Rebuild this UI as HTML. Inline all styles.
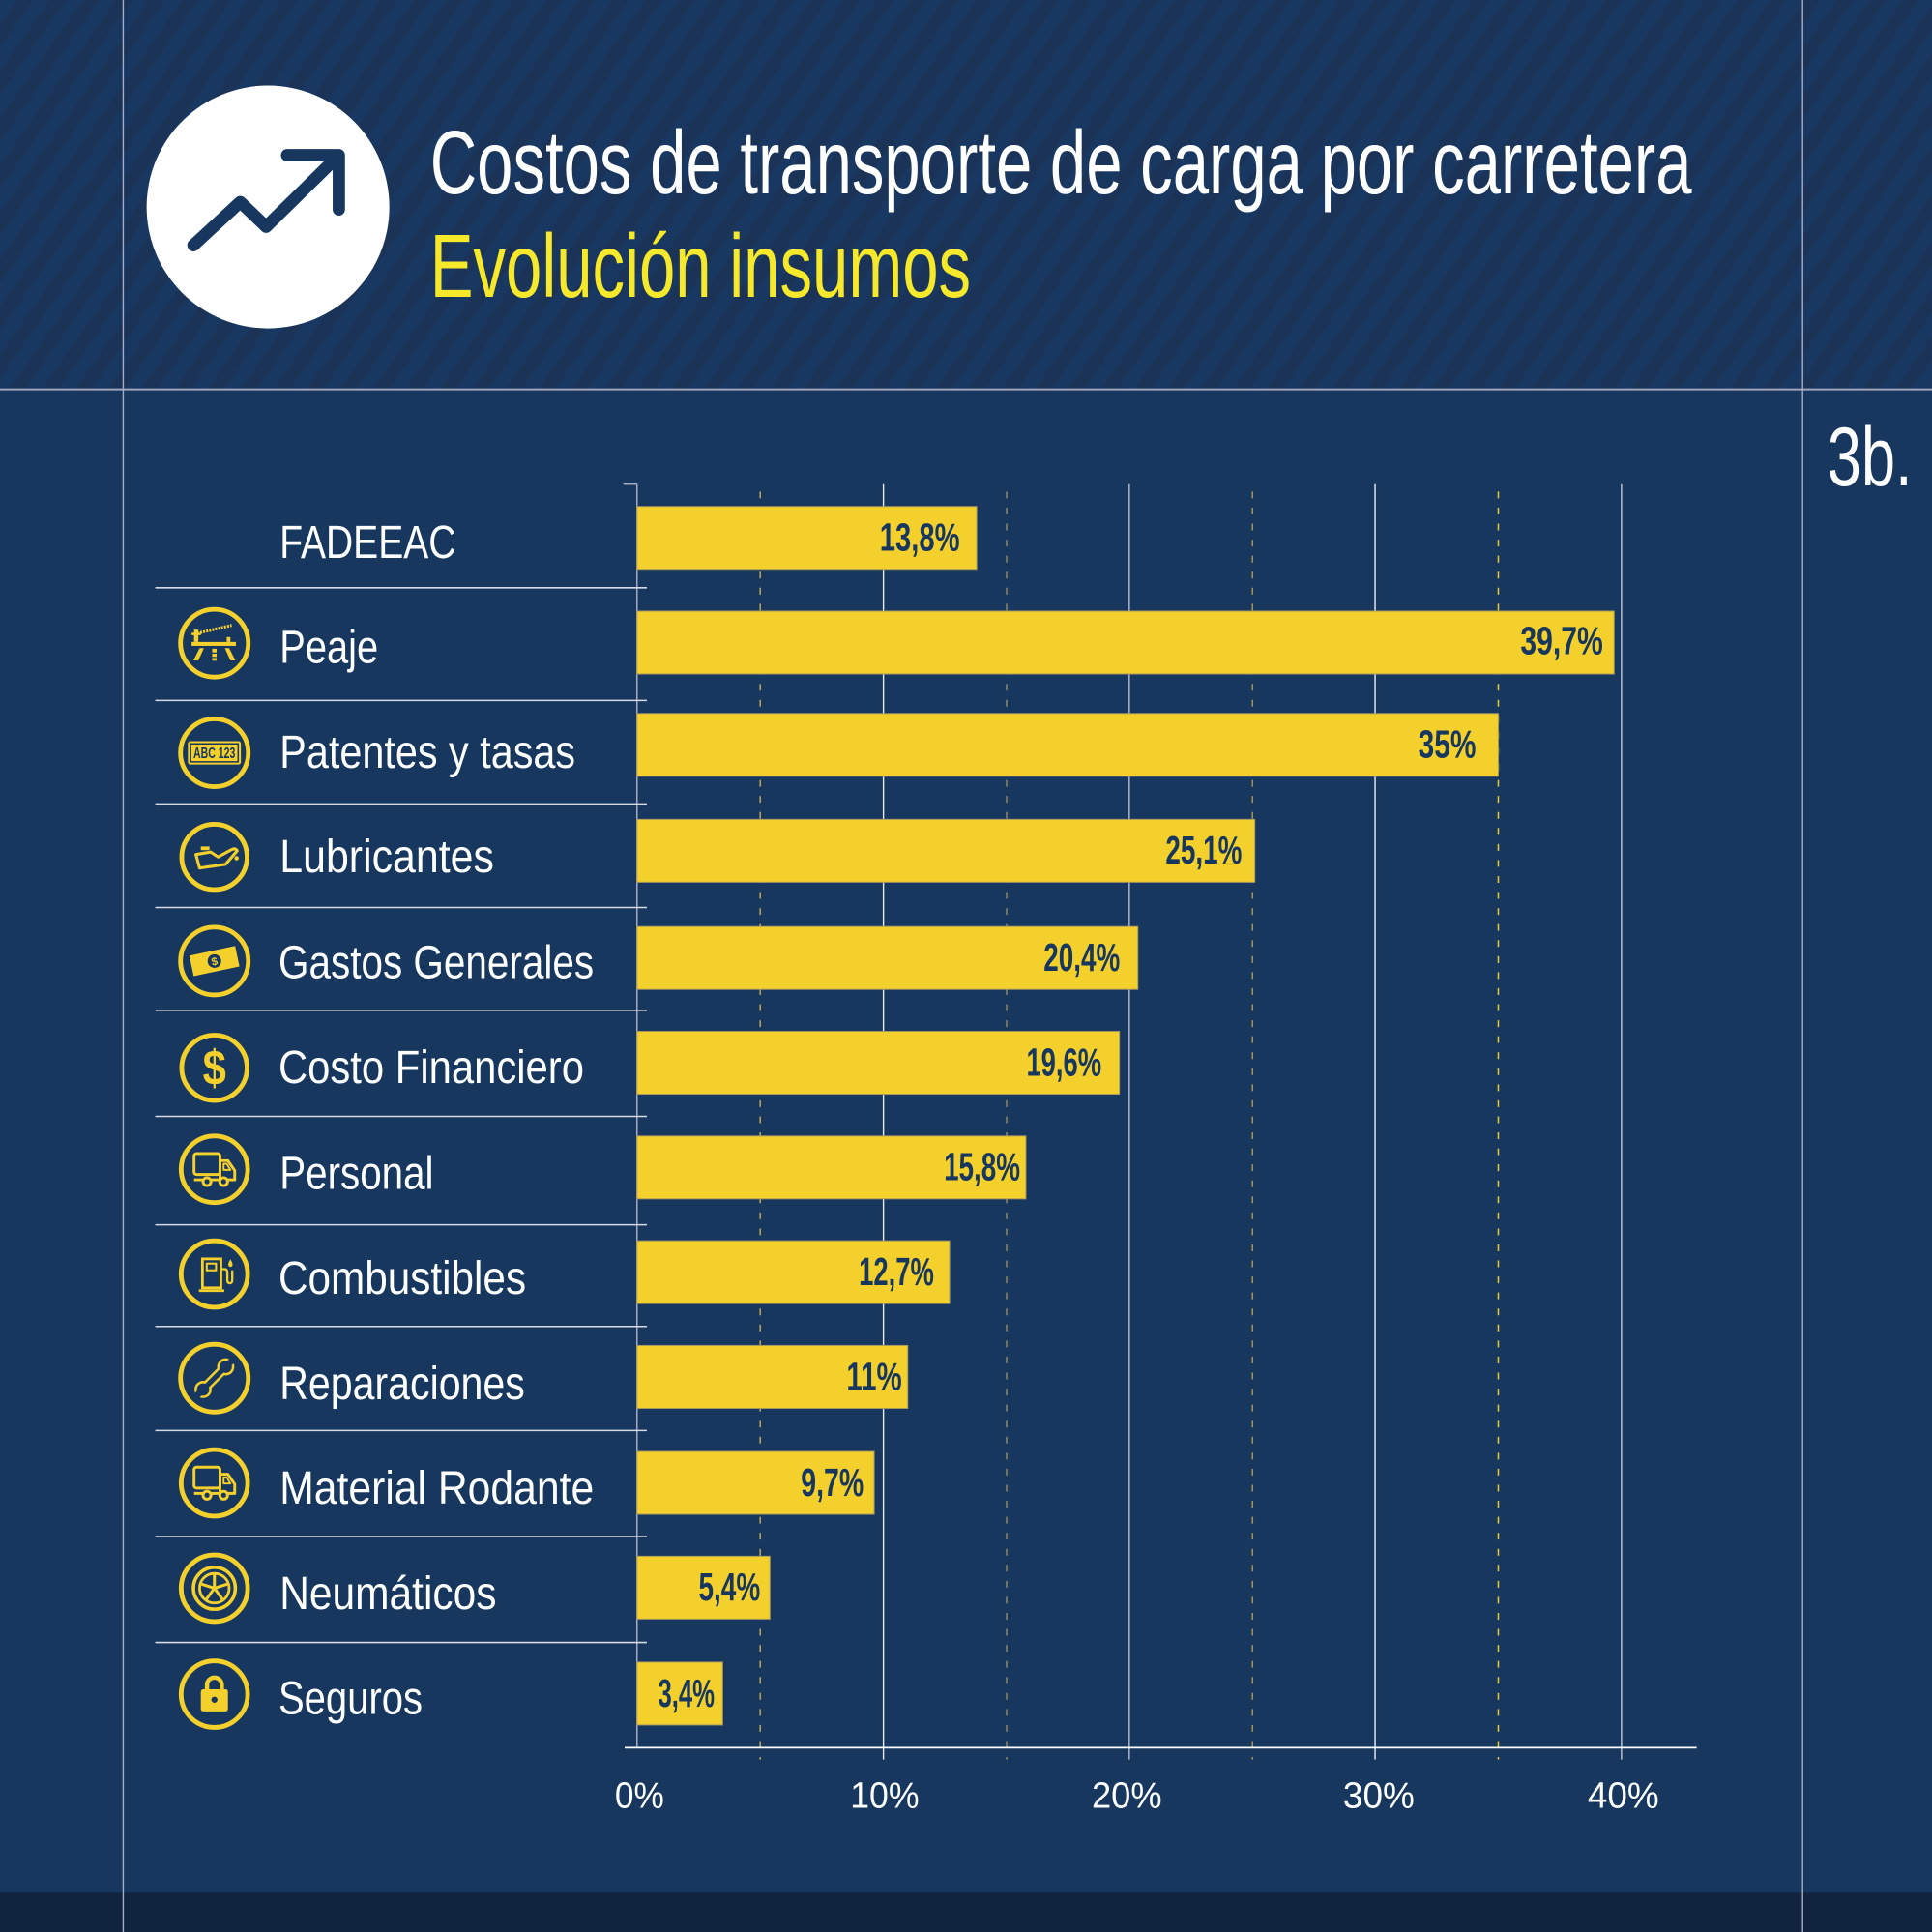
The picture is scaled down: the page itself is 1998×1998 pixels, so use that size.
<!DOCTYPE html>
<html>
<head>
<meta charset="utf-8">
<style>
  html, body { margin: 0; padding: 0; background: #17375f; }
  body { width: 1998px; height: 1998px; overflow: hidden; }
  svg { display: block; }
  text { font-family: "Liberation Sans", "DejaVu Sans", sans-serif; }
</style>
</head>
<body>
<svg width="1998" height="1998" viewBox="0 0 1568 1568" xmlns="http://www.w3.org/2000/svg">
  <defs>
    <pattern id="st" patternUnits="userSpaceOnUse" width="40" height="22" patternTransform="rotate(-55)">
      <rect width="40" height="22" fill="#1c3358"/>
      <rect width="40" height="11" fill="#183861"/>
    </pattern>
  </defs>

  <!-- backgrounds -->
  <rect x="0" y="0" width="1568" height="1568" fill="#17375f"/>
  <rect x="0" y="0" width="1568" height="316" fill="url(#st)"/>
  <rect x="0" y="1536" width="1568" height="32" fill="#10243f"/>

  <!-- frame lines -->
  <line x1="0" y1="316" x2="1568" y2="316" stroke="#a3a5bf" stroke-width="1.6"/>
  <line x1="100" y1="0" x2="100" y2="1568" stroke="#a9acc6" stroke-width="1.1"/>
  <line x1="1463" y1="0" x2="1463" y2="1568" stroke="#a9acc6" stroke-width="1.1"/>

  <!-- header icon -->
  <circle cx="217.5" cy="168" r="98.5" fill="#ffffff"/>
  <polyline points="157,199 195,164 216,184 272,129" fill="none" stroke="#17375f" stroke-width="10" stroke-linecap="round" stroke-linejoin="round"/>
  <polyline points="233,126 275,126 275,170" fill="none" stroke="#17375f" stroke-width="10" stroke-linecap="round" stroke-linejoin="round"/>

  <!-- titles -->
  <text x="349" y="157" font-size="73" fill="#ffffff" textLength="1024" lengthAdjust="spacingAndGlyphs">Costos de transporte de carga por carretera</text>
  <text x="349" y="241" font-size="73" fill="#f6e82b" textLength="439" lengthAdjust="spacingAndGlyphs">Evolución insumos</text>
  <text x="1483" y="394" font-size="68" fill="#ffffff" textLength="69" lengthAdjust="spacingAndGlyphs">3b.</text>

  <!-- grid -->
  <line x1="517" y1="393" x2="517" y2="1418" stroke="#b0b3c8" stroke-width="1.1"/>
  <line x1="506" y1="393" x2="517" y2="393" stroke="#b0b3c8" stroke-width="1.1"/>
  <g stroke-width="1.1">
    <line x1="717" y1="393" x2="717" y2="1428" stroke="#e8eaf0"/>
    <line x1="916.5" y1="393" x2="916.5" y2="1428" stroke="#b8bbcd"/>
    <line x1="1116" y1="393" x2="1116" y2="1428" stroke="#eef0f4"/>
    <line x1="1316" y1="393" x2="1316" y2="1428" stroke="#c4c7d6"/>
  </g>
  <g stroke-width="1.2" stroke-dasharray="5.5 7.5">
    <line x1="617" y1="399" x2="617" y2="1428" stroke="#b9a45a"/>
    <line x1="817" y1="399" x2="817" y2="1428" stroke="#8f8466"/>
    <line x1="1016.5" y1="399" x2="1016.5" y2="1428" stroke="#a3925a"/>
    <line x1="1216" y1="399" x2="1216" y2="1428" stroke="#e6c735"/>
  </g>
  <line x1="507" y1="1418.4" x2="1377" y2="1418.4" stroke="#ffffff" stroke-width="1.3"/>

  <!-- row separators -->
  <g stroke="#d8dbe6" stroke-width="1.2">
    <line x1="126" y1="477" x2="525" y2="477"/>
    <line x1="126" y1="568.5" x2="525" y2="568.5"/>
    <line x1="126" y1="652.5" x2="525" y2="652.5"/>
    <line x1="126" y1="736.5" x2="525" y2="736.5"/>
    <line x1="126" y1="820" x2="525" y2="820"/>
    <line x1="126" y1="906" x2="525" y2="906"/>
    <line x1="126" y1="994" x2="525" y2="994"/>
    <line x1="126" y1="1076.5" x2="525" y2="1076.5"/>
    <line x1="126" y1="1161" x2="525" y2="1161"/>
    <line x1="126" y1="1247" x2="525" y2="1247"/>
    <line x1="126" y1="1333" x2="525" y2="1333"/>
  </g>

  <!-- bars -->
  <g fill="#f4d02c" stroke="#a89a60" stroke-width="0.8">
    <rect x="517" y="411" width="275.7" height="51"/>
    <rect x="517" y="496" width="793" height="51"/>
    <rect x="517" y="579" width="699" height="51"/>
    <rect x="517" y="665" width="501.4" height="51"/>
    <rect x="517" y="752" width="406.5" height="51"/>
    <rect x="517" y="837" width="391.5" height="51"/>
    <rect x="517" y="922" width="315.6" height="51"/>
    <rect x="517" y="1007" width="253.7" height="51"/>
    <rect x="517" y="1092" width="219.7" height="51"/>
    <rect x="517" y="1178" width="192.5" height="51"/>
    <rect x="517" y="1263" width="107.9" height="51"/>
    <rect x="517" y="1349" width="69.5" height="51"/>
  </g>

  <!-- value labels -->
  <g font-size="32" font-weight="bold" fill="#17375f">
    <text x="714" y="447" textLength="65" lengthAdjust="spacingAndGlyphs">13,8%</text>
    <text x="1234" y="531" textLength="67" lengthAdjust="spacingAndGlyphs">39,7%</text>
    <text x="1151" y="615" textLength="47" lengthAdjust="spacingAndGlyphs">35%</text>
    <text x="946" y="701" textLength="62" lengthAdjust="spacingAndGlyphs">25,1%</text>
    <text x="847" y="788" textLength="62" lengthAdjust="spacingAndGlyphs">20,4%</text>
    <text x="833" y="873" textLength="61" lengthAdjust="spacingAndGlyphs">19,6%</text>
    <text x="766" y="958" textLength="62" lengthAdjust="spacingAndGlyphs">15,8%</text>
    <text x="697" y="1043" textLength="61" lengthAdjust="spacingAndGlyphs">12,7%</text>
    <text x="687" y="1128" textLength="45" lengthAdjust="spacingAndGlyphs">11%</text>
    <text x="650" y="1214" textLength="51" lengthAdjust="spacingAndGlyphs">9,7%</text>
    <text x="567" y="1299" textLength="50" lengthAdjust="spacingAndGlyphs">5,4%</text>
    <text x="534" y="1385" textLength="46" lengthAdjust="spacingAndGlyphs">3,4%</text>
  </g>

  <!-- row labels -->
  <g font-size="37.7" fill="#ffffff">
    <text x="227" y="453" textLength="143" lengthAdjust="spacingAndGlyphs">FADEEAC</text>
    <text x="227" y="538" textLength="80" lengthAdjust="spacingAndGlyphs">Peaje</text>
    <text x="227" y="623" textLength="240" lengthAdjust="spacingAndGlyphs">Patentes y tasas</text>
    <text x="227" y="708" textLength="174" lengthAdjust="spacingAndGlyphs">Lubricantes</text>
    <text x="226" y="794" textLength="256" lengthAdjust="spacingAndGlyphs">Gastos Generales</text>
    <text x="226" y="879" textLength="248" lengthAdjust="spacingAndGlyphs">Costo Financiero</text>
    <text x="227" y="965" textLength="125" lengthAdjust="spacingAndGlyphs">Personal</text>
    <text x="226" y="1050" textLength="201" lengthAdjust="spacingAndGlyphs">Combustibles</text>
    <text x="227" y="1135.5" textLength="199" lengthAdjust="spacingAndGlyphs">Reparaciones</text>
    <text x="227" y="1220.5" textLength="255" lengthAdjust="spacingAndGlyphs">Material Rodante</text>
    <text x="227" y="1306" textLength="176" lengthAdjust="spacingAndGlyphs">Neumáticos</text>
    <text x="226" y="1391" textLength="117" lengthAdjust="spacingAndGlyphs">Seguros</text>
  </g>

  <!-- icon rings -->
  <g fill="none" stroke="#f4d02c" stroke-width="3.8">
    <circle cx="174" cy="522" r="27.5"/>
    <circle cx="174" cy="611" r="27.5"/>
    <circle cx="174" cy="695.5" r="26.5"/>
    <circle cx="174" cy="780" r="27.5"/>
    <circle cx="174" cy="866.6" r="26.5"/>
    <circle cx="174" cy="949" r="27"/>
    <circle cx="174" cy="1034" r="27"/>
    <circle cx="174" cy="1118.5" r="27.5"/>
    <circle cx="174" cy="1203.5" r="27"/>
    <circle cx="174" cy="1289" r="27"/>
    <circle cx="174" cy="1375" r="27"/>
  </g>

  <!-- Peaje icon -->
  <g transform="translate(174,522)" fill="#f4d02c">
    <line x1="-14" y1="-8" x2="14" y2="-14.5" stroke="#f4d02c" stroke-width="2.4" stroke-dasharray="1.6 0.9"/>
    <rect x="-16.5" y="-11" width="3.5" height="10"/>
    <rect x="-18.5" y="-8.5" width="7.5" height="2"/>
    <rect x="10" y="-5" width="3" height="4"/>
    <rect x="-18.5" y="-1" width="36" height="3.2"/>
    <polygon points="-12,4 -8.5,4 -13,14 -17,14"/>
    <polygon points="8.5,4 12,4 17,14 13,14"/>
    <rect x="-1.8" y="4.5" width="3.6" height="3"/>
    <rect x="-1.8" y="8.5" width="3.6" height="2.6"/>
    <rect x="-1.8" y="12" width="3.6" height="2.2"/>
  </g>

  <!-- Patentes icon -->
  <g transform="translate(174,611)">
    <rect x="-21.5" y="-9.5" width="43" height="19" rx="2" fill="#f4d02c"/>
    <rect x="-19.3" y="-7.3" width="38.6" height="14.6" fill="none" stroke="#17375f" stroke-width="1.2"/>
    <text x="-17" y="4.3" font-size="12" font-weight="bold" fill="#17375f" textLength="34" lengthAdjust="spacingAndGlyphs">ABC 123</text>
  </g>

  <!-- Lubricantes icon -->
  <g transform="translate(174,695.5)">
    <path d="M-15,-2 L-3,-4 L3,0 L14,-6 Q17,-7.5 18.5,-5 L9,6 L-12,9 Z" fill="none" stroke="#f4d02c" stroke-width="2.4" stroke-linejoin="round"/>
    <rect x="-11" y="-8.5" width="7" height="3" fill="#f4d02c"/>
    <circle cx="18" cy="1" r="1.8" fill="#f4d02c"/>
  </g>

  <!-- Gastos icon -->
  <g transform="translate(174,780) rotate(-12)">
    <rect x="-19" y="-8.5" width="38" height="17" fill="#f4d02c"/>
    <circle cx="0" cy="0" r="5.5" fill="#17375f"/>
    <text x="0" y="3.3" font-size="9" font-weight="bold" fill="#f4d02c" text-anchor="middle">$</text>
  </g>

  <!-- Costo Financiero icon -->
  <text x="164.5" y="880" font-size="40" font-weight="bold" fill="#f4d02c" textLength="19" lengthAdjust="spacingAndGlyphs">$</text>

  <!-- Truck icons -->
  <g transform="translate(174,949)" fill="none" stroke="#f4d02c" stroke-width="2.3" stroke-linejoin="round">
    <rect x="-16.5" y="-12.8" width="21" height="17" rx="2"/>
    <path d="M4.5,-7 L11,-7 L16.5,1 L16.5,8.5 L4.5,8.5 Z"/>
    <path d="M7.5,-4.5 L10,-4.5 L13,0.5 L7.5,0.5 Z" stroke-width="1.5"/>
    <line x1="-16.5" y1="8.5" x2="4.5" y2="8.5"/>
    <circle cx="-6" cy="10" r="3.2" fill="#17375f"/>
    <circle cx="7.5" cy="10" r="3.2" fill="#17375f"/>
  </g>
  <g transform="translate(174,1203.5)" fill="none" stroke="#f4d02c" stroke-width="2.3" stroke-linejoin="round">
    <rect x="-16.5" y="-12.8" width="21" height="17" rx="2"/>
    <path d="M4.5,-7 L11,-7 L16.5,1 L16.5,8.5 L4.5,8.5 Z"/>
    <path d="M7.5,-4.5 L10,-4.5 L13,0.5 L7.5,0.5 Z" stroke-width="1.5"/>
    <line x1="-16.5" y1="8.5" x2="4.5" y2="8.5"/>
    <circle cx="-6" cy="10" r="3.2" fill="#17375f"/>
    <circle cx="7.5" cy="10" r="3.2" fill="#17375f"/>
  </g>

  <!-- Combustibles icon -->
  <g transform="translate(174,1034)" fill="none" stroke="#f4d02c" stroke-width="2.2">
    <rect x="-9.7" y="-12.3" width="15" height="23.5"/>
    <rect x="-6.2" y="-8.5" width="7.5" height="5.5" stroke-width="1.6"/>
    <line x1="-12.6" y1="13.5" x2="8" y2="13.5"/>
    <path d="M5.2,-4 L8.5,-4 Q10.5,-4 10.5,-1 L10.5,5 Q10.5,7.5 12.5,7.5 Q14.5,7.5 14.5,5 L14.5,-3" stroke-width="1.8"/>
    <path d="M13,-12 Q10.5,-8 11.5,-6.5 Q13,-5 14.5,-6.5 Q15.5,-8 13,-12 Z" fill="#f4d02c" stroke="none"/>
  </g>

  <!-- Reparaciones icon -->
  <g transform="translate(174,1118.5) rotate(-45)">
    <line x1="-13" y1="0" x2="13" y2="0" stroke="#f4d02c" stroke-width="8"/>
    <circle cx="-13" cy="0" r="7" fill="#f4d02c"/>
    <circle cx="13" cy="0" r="7" fill="#f4d02c"/>
    <line x1="-12" y1="0" x2="12" y2="0" stroke="#17375f" stroke-width="4"/>
    <circle cx="-13" cy="0" r="5" fill="#17375f"/>
    <circle cx="13" cy="0" r="5" fill="#17375f"/>
    <rect x="15" y="-2.6" width="6" height="5.2" fill="#17375f"/>
    <rect x="-21" y="-2.6" width="6" height="5.2" fill="#17375f"/>
  </g>

  <!-- Neumaticos icon -->
  <g transform="translate(174,1289)" fill="none" stroke="#f4d02c">
    <circle r="17" stroke-width="2.8"/>
    <circle r="12" stroke-width="2.2"/>
    <circle r="1.8" fill="#f4d02c" stroke="none"/>
    <g stroke-width="2.4">
      <line x1="0" y1="0" x2="0" y2="-11"/>
      <line x1="0" y1="0" x2="10.5" y2="-3.4"/>
      <line x1="0" y1="0" x2="6.5" y2="8.9"/>
      <line x1="0" y1="0" x2="-6.5" y2="8.9"/>
      <line x1="0" y1="0" x2="-10.5" y2="-3.4"/>
    </g>
  </g>

  <!-- Seguros icon -->
  <g transform="translate(174,1375)">
    <path d="M-6,-3 L-6,-7.5 A6,6 0 0 1 6,-7.5 L6,-3" fill="none" stroke="#f4d02c" stroke-width="3.5"/>
    <rect x="-11" y="-4" width="22" height="18" rx="2" fill="#f4d02c"/>
    <circle cx="0" cy="4.5" r="2.5" fill="#17375f"/>
  </g>

  <!-- x tick labels -->
  <g font-size="30" fill="#ffffff">
    <text x="499" y="1467" textLength="40" lengthAdjust="spacingAndGlyphs">0%</text>
    <text x="690" y="1467" textLength="56" lengthAdjust="spacingAndGlyphs">10%</text>
    <text x="886" y="1467" textLength="57" lengthAdjust="spacingAndGlyphs">20%</text>
    <text x="1090" y="1467" textLength="58" lengthAdjust="spacingAndGlyphs">30%</text>
    <text x="1288.5" y="1467" textLength="58" lengthAdjust="spacingAndGlyphs">40%</text>
  </g>
</svg>
</body>
</html>
